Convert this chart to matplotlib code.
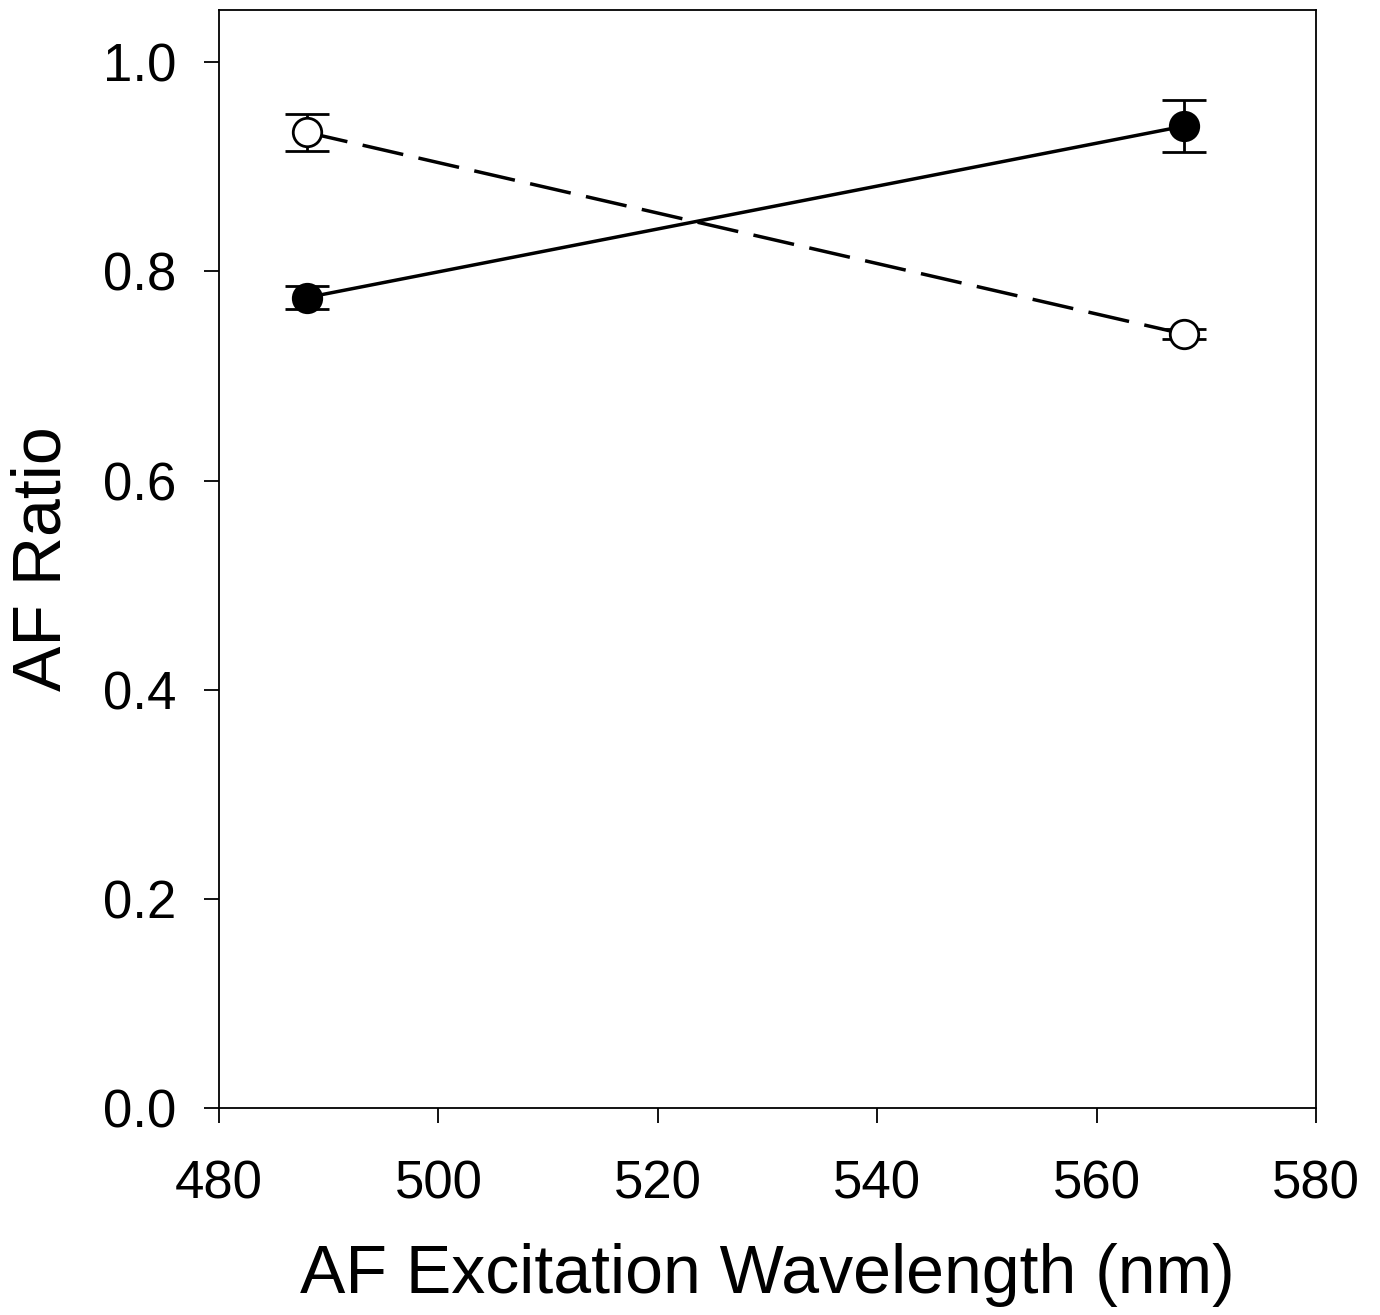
import numpy as np
import matplotlib
matplotlib.use('Agg')
import matplotlib.pyplot as plt

plt.rcParams['font.family'] = ['Liberation Sans', 'DejaVu Sans']

# excitation wavelengths (nm)
wavelength = [488, 568]

# filled circles, solid line
ratio_a = [0.775, 0.939]
err_a = [0.011, 0.025]

# open circles, dashed line
ratio_b = [0.933, 0.740]
err_b = [0.018, 0.005]

fig = plt.figure(figsize=(13.8, 13.15), dpi=100)
ax = fig.add_axes([0.1587, 0.1574, 0.7949, 0.835])

ax.errorbar(wavelength, ratio_b, yerr=err_b, color='black', lw=2.5,
            linestyle=(0, (12, 4.5)), marker='o', ms=20.5, mfc='white', mec='black',
            mew=2.0, capsize=16, capthick=2.0, elinewidth=2.0, zorder=3)
ax.errorbar(wavelength, ratio_a, yerr=err_a, color='black', lw=2.5,
            linestyle='-', marker='o', ms=20.5, mfc='black', mec='black',
            mew=2.0, capsize=16, capthick=2.0, elinewidth=2.0, zorder=4)

ax.set_xlim(480, 580)
ax.set_ylim(0, 1.05)
ax.set_xticks(np.arange(480, 581, 20))
ax.set_yticks(np.arange(0, 1.01, 0.2))
ax.set_yticklabels(['0.0', '0.2', '0.4', '0.6', '0.8', '1.0'])

ax.tick_params(direction='out', length=11, width=1.3, labelsize=38)
ax.tick_params(axis='x', pad=26)
ax.tick_params(axis='y', pad=20)
for s in ax.spines.values():
    s.set_linewidth(1.3)

ax.set_xlabel('AF Excitation Wavelength (nm)', fontsize=49, labelpad=24)
ax.set_ylabel('AF Ratio', fontsize=49, labelpad=20)

fig.savefig('out.png', dpi=100)
